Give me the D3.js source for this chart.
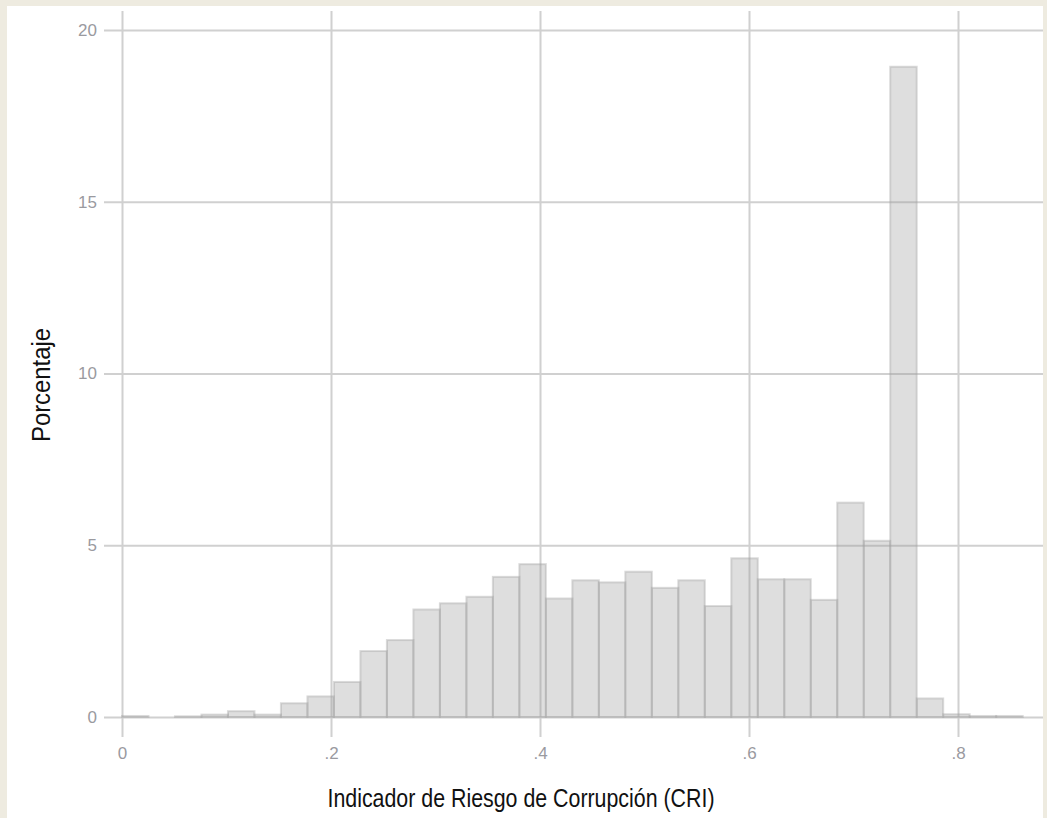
<!DOCTYPE html>
<html>
<head>
<meta charset="utf-8">
<script src="https://cdn.jsdelivr.net/npm/d3@7"></script>
<style>
  html, body { margin: 0; padding: 0; background: #eeebe0; }
  svg { display: block; }
</style>
</head>
<body>
<svg id="chart" width="1047" height="818"></svg>
<script>
// ---- Data ----
const binWidth = 0.02535;          // histogram bin width (CRI units), bins start at 0
const percent = [0.03, 0, 0.02, 0.07, 0.17, 0.07, 0.40, 0.60, 1.02, 1.92, 2.24, 3.13,
                 3.31, 3.50, 4.08, 4.45, 3.45, 3.98, 3.92, 4.23, 3.76, 3.98, 3.23, 4.62,
                 4.01, 4.01, 3.41, 6.24, 5.13, 18.93, 0.54, 0.08, 0.03, 0.03];
const xTicks = [0, 0.2, 0.4, 0.6, 0.8];
const yTicks = [0, 5, 10, 15, 20];
const xTitle = "Indicador de Riesgo de Corrupción (CRI)";
const yTitle = "Porcentaje";

const bins = percent.map((v, i) => ({ x0: i * binWidth, x1: (i + 1) * binWidth, v }));

// ---- Layout ----
const svg = d3.select("#chart");
svg.append("rect").attr("x", 7).attr("y", 6).attr("width", 1036).attr("height", 812).attr("fill", "#ffffff");

const x = d3.scaleLinear().domain([0, 0.8]).range([122, 958]);
const y = d3.scaleLinear().domain([0, 20]).range([717, 30]);

const gridColor = "#d0d0d0";
const tickColor = "#9a9a9f";
const font = "'Liberation Sans', Arial, sans-serif";

// Y axis + horizontal gridlines
const yAxis = svg.append("g").attr("transform", "translate(104,0)")
  .call(d3.axisLeft(y).tickValues(yTicks).tickSize(-(1043 - 104)).tickPadding(7).tickFormat(d3.format("d")));
yAxis.select(".domain").remove();
yAxis.selectAll("line").attr("stroke", gridColor).attr("stroke-width", 2);
yAxis.selectAll("text").attr("fill", tickColor).style("font-family", font).style("font-size", "17px");

// X axis + vertical gridlines
const fmtX = d => d === 0 ? "0" : d3.format(".1f")(d).replace(/^0/, "");
const xAxis = svg.append("g").attr("transform", "translate(0,737)")
  .call(d3.axisBottom(x).tickValues(xTicks).tickSize(-(737 - 11)).tickPadding(10).tickFormat(fmtX));
xAxis.select(".domain").remove();
xAxis.selectAll("line").attr("stroke", gridColor).attr("stroke-width", 2);
xAxis.selectAll("text").attr("fill", tickColor).style("font-family", font).style("font-size", "17px");

// Bars
svg.append("g").selectAll("rect").data(bins).join("rect")
  .attr("x", d => x(d.x0))
  .attr("y", d => y(d.v))
  .attr("width", d => x(d.x1) - x(d.x0))
  .attr("height", d => y(0) - y(d.v))
  .attr("fill", "#9b9b9b").attr("fill-opacity", 0.33)
  .attr("stroke", "#a0a0a0").attr("stroke-opacity", 0.38).attr("stroke-width", 2);

// Titles
svg.append("text")
  .attr("x", 521).attr("y", 807)
  .attr("text-anchor", "middle")
  .attr("textLength", 387).attr("lengthAdjust", "spacingAndGlyphs")
  .style("font-family", font).style("font-size", "25px").attr("fill", "#111")
  .text(xTitle);

svg.append("text")
  .attr("transform", "translate(50,385) rotate(-90)")
  .attr("text-anchor", "middle")
  .attr("textLength", 114).attr("lengthAdjust", "spacingAndGlyphs")
  .style("font-family", font).style("font-size", "25px").attr("fill", "#111")
  .text(yTitle);
</script>
</body>
</html>
